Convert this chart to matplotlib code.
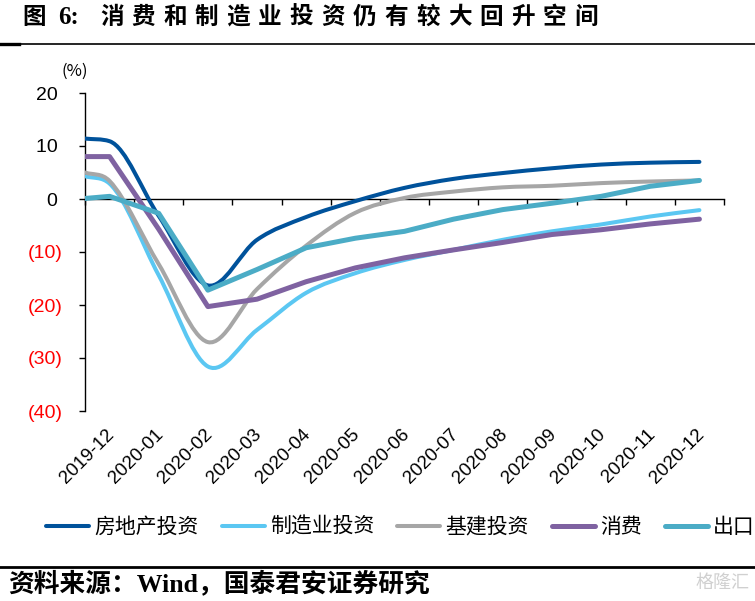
import numpy as np
import matplotlib
matplotlib.use("Agg")
import matplotlib.pyplot as plt
from matplotlib.path import Path
from matplotlib.patches import PathPatch
from matplotlib.lines import Line2D
from matplotlib.font_manager import FontProperties
import matplotlib.transforms as mtransforms

# ---------------- data ----------------
months = ["2019-12", "2020-01", "2020-02", "2020-03", "2020-04", "2020-05", "2020-06",
          "2020-07", "2020-08", "2020-09", "2020-10", "2020-11", "2020-12"]
series_names = ["房地产投资", "制造业投资", "基建投资", "消费", "出口"]
real_estate = [10.9, -3.2, -16.3, -7.7, -3.4, -0.4, 2.1, 3.8, 4.9, 5.8, 6.5, 6.85, 7.0]
manufacturing = [2.9, -14.4, -31.6, -24.7, -17.7, -14.0, -11.5, -9.6, -7.7, -6.1, -4.8, -3.3, -2.1]
infrastructure = [3.4, -12.3, -27.0, -17.0, -8.8, -2.6, 0.2, 1.4, 2.2, 2.5, 3.0, 3.3, 3.5]
consumption = [8.0, -5.7, -20.3, -18.9, -15.6, -13.0, -11.1, -9.6, -8.2, -6.7, -5.8, -4.7, -3.8]
exports = [0.5, -2.7, -17.2, -13.3, -9.2, -7.4, -6.1, -3.8, -2.0, -0.8, 0.5, 2.4, 3.5]
# value of each line where it meets the left axis edge
left_edge_values = [11.4, 4.3, 5.0, 8.0, 0.1]
y_ticks = [20, 10, 0, -10, -20, -30, -40]

# ---------------- styles ----------------
colors = ["#00529B", "#5BC7F2", "#A6A6A6", "#7F62A1", "#4BACC6"]
widths = [2.9, 2.9, 2.9, 3.6, 3.6]
smoothed = [True, True, True, False, False]

W, H = 755, 601
fig = plt.figure(figsize=(W / 100, H / 100), dpi=100)
ax = fig.add_axes([85 / W, 1 - 411 / H, (724 - 85) / W, 318 / H])

NARROW = ["Liberation Sans", "DejaVu Sans"]
CJK = ["Noto Sans CJK SC", "DejaVu Sans"]
SERIF_CJK = ["Liberation Serif", "Noto Sans CJK SC"]


def smooth_path(xs, ys):
    """Smooth cubic curve through the points (Hermite, limited near monotone runs)."""
    x = np.asarray(xs, float)
    y = np.asarray(ys, float)
    n = len(x)
    h = np.diff(x)
    d = np.diff(y) / h
    m = np.empty(n)
    m[0] = d[0]
    m[-1] = d[-1]
    for i in range(1, n - 1):
        mi = (y[i + 1] - y[i - 1]) / (x[i + 1] - x[i - 1])
        if d[i - 1] * d[i] > 0:
            lim = 3 * min(abs(d[i - 1]), abs(d[i]))
            mi = np.sign(mi) * min(abs(mi), lim)
        m[i] = mi
    verts = [(x[0], y[0])]
    codes = [Path.MOVETO]
    for i in range(n - 1):
        verts += [(x[i] + h[i] / 3, y[i] + m[i] * h[i] / 3),
                  (x[i + 1] - h[i] / 3, y[i + 1] - m[i + 1] * h[i] / 3),
                  (x[i + 1], y[i + 1])]
        codes += [Path.CURVE4] * 3
    return Path(verts, codes)


x_left = -0.5
x_right = len(months) - 0.5
xs = np.concatenate([[x_left], np.arange(len(months))])
all_series = [real_estate, manufacturing, infrastructure, consumption, exports]

for name, vals, edge, c, lw, sm in zip(series_names, all_series, left_edge_values,
                                       colors, widths, smoothed):
    ys = np.concatenate([[edge], vals])
    if sm:
        patch = PathPatch(smooth_path(xs, ys), facecolor="none", edgecolor=c, lw=lw,
                          capstyle="round", joinstyle="round", zorder=3)
        ax.add_patch(patch)
    else:
        ax.plot(xs, ys, color=c, lw=lw, solid_capstyle="round",
                solid_joinstyle="round", zorder=3)

ax.set_xlim(x_left, x_right)
ax.set_ylim(-40, 20)

for s in ["top", "right"]:
    ax.spines[s].set_visible(False)
ax.spines["bottom"].set_position(("data", 0))
ax.spines["bottom"].set_linewidth(1.0)
ax.spines["left"].set_linewidth(1.0)

ax.set_xticks(np.arange(x_left, x_right + 0.01, 1.0))
ax.set_xticklabels([])
ax.tick_params(axis="x", direction="out", length=4.5, width=1.0)

ax.set_yticks(y_ticks)
ylabels = [f"({abs(v)})" if v < 0 else f"{v} " for v in y_ticks]
ax.set_yticklabels(ylabels)
ax.tick_params(axis="y", direction="out", length=4.3, width=1.0, pad=11.5)
for lab, v in zip(ax.get_yticklabels(), y_ticks):
    lab.set_fontfamily(NARROW)
    lab.set_fontsize(14)
    lab.set_color("red" if v < 0 else "black")

# category labels below the plot
trans = mtransforms.blended_transform_factory(ax.transData, ax.transAxes)
for i, m in enumerate(months):
    ax.text(i + 0.04, -0.066, m, transform=trans, rotation=45, ha="right", va="center",
            rotation_mode="anchor", fontsize=13.5, family=NARROW, clip_on=False)

# unit
fig.text(75 / W, 1 - 71 / H, "(%)", ha="center", va="center", fontsize=12, family=CJK)

# title
title_y = 1 - 17 / H
fig.text(22 / W, title_y, "图", ha="left", va="center", fontsize=17, family=CJK,
         fontweight="bold")
fig.text(58 / W, title_y, "6:", ha="left", va="center", fontsize=18, family=SERIF_CJK,
         fontweight="bold")
title_rest = "消费和制造业投资仍有较大回升空间"
for k, ch in enumerate(title_rest):
    fig.text((100 + 31.6 * k) / W, title_y, ch, ha="left", va="center", fontsize=17,
             family=CJK, fontweight="bold")

# rules
fig.add_artist(Line2D([0, 1], [1 - 44 / H] * 2, color="black", lw=1.2))
fig.add_artist(Line2D([0, 19 / W], [1 - 44 / H] * 2, color="black", lw=2.4))
fig.add_artist(Line2D([0, 1], [1 - 567 / H] * 2, color="black", lw=2.0))

# legend
handles = [Line2D([], [], color=c, lw=lw, solid_capstyle="round")
           for c, lw in zip(colors, widths)]
fig.legend(handles, series_names, loc="center left",
           bbox_to_anchor=(46 / W, 1 - 527 / H), ncol=5, frameon=False,
           handlelength=2.07, handletextpad=0.25, columnspacing=1.1,
           prop=FontProperties(family="Noto Sans CJK SC", size=15),
           borderpad=0, borderaxespad=0)

# source
fig.text(8 / W, 1 - 583 / H, "资料来源：Wind，国泰君安证券研究", ha="left", va="center",
         fontsize=18.5, family=SERIF_CJK, fontweight="bold")
fig.text(750 / W, 1 - 583 / H, "格隆汇", ha="right", va="center", fontsize=13,
         family=CJK, color="#d0d0d0")

fig.savefig("out.png", dpi=100)
